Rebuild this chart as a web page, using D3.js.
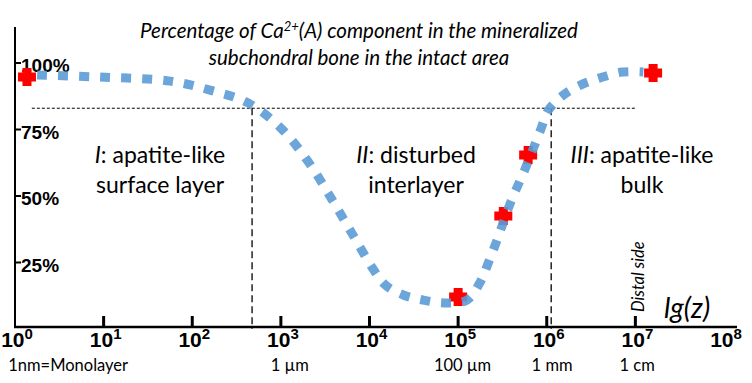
<!DOCTYPE html>
<html lang="en">
<head>
<meta charset="UTF-8">
<title>Ca2+(A) component</title>
<style>
    body { margin: 0; background: #fff; }
    svg { display: block; }
    .tick-y { font: bold 19px "Liberation Sans", Arial, sans-serif; }
    .tick-x { font: bold 21px "Liberation Sans", Arial, sans-serif; }
    .sub { font: 16.5px Lato, sans-serif; }
    .region { font: 23px Lato, sans-serif; }
    .title { font: italic 20.5px Lato, sans-serif; }
</style>
</head>
<body>
<div id="chart"></div>
<script src="https://d3js.org/d3.v7.min.js"></script>
<script>
    // blue fitted curve: lg(z) (z in nm) vs percent
    const curveLg  = [0.25, 0.96, 1.75, 2.2, 2.63, 3.01, 3.31, 3.56, 3.80, 4.04, 4.18, 4.38, 4.60, 4.85, 5.10, 5.25, 5.34, 5.44, 5.59, 5.76, 5.93, 6.02, 6.19, 6.38, 6.6, 6.85, 7.09];
    const curvePct = [95.5, 94.7, 93.2, 89.8, 85.0, 75.2, 62.8, 49.6, 36.1, 22.6, 16.5, 12.8, 10.9, 9.8, 10.9, 17.7, 24.8, 33.5, 47.4, 60.5, 74.8, 82.3, 88, 91.7, 94.4, 96.6, 96.6];

    // measured points (red crosses)
    const pointLg  = [0.135, 5.0, 5.51, 5.79, 7.2];
    const pointPct = [94.7, 12.0, 42.5, 65.4, 96.2];

    const yTicks = [25, 50, 75, 100];
    const xTickExp = [0, 1, 2, 3, 4, 5, 6, 7, 8];
    const subLabels = [
        { lg: 0.6, text: "1nm=Monolayer" },
        { lg: 3.1, text: "1 \u00b5m" },
        { lg: 5.05, text: "100 \u00b5m" },
        { lg: 6.06, text: "1 mm" },
        { lg: 7.02, text: "1 cm" }
    ];

    const thresholdPct = 83;
    const boundaryLg = [2.675, 6.05];

    const width = 752, height = 383;

    const svg = d3.select("#chart").append("svg")
        .attr("width", width)
        .attr("height", height);

    const x = d3.scaleLog().domain([1, 1e8]).range([15, 724]);
    const y = d3.scaleLinear().domain([0, 100]).range([329, 63]);
    const xl = lg => x(Math.pow(10, lg));

    // title
    const title = svg.append("text").attr("class", "title").attr("text-anchor", "middle");
    const t1 = title.append("tspan").attr("x", 359).attr("y", 38);
    t1.append("tspan").text("Percentage of Ca");
    t1.append("tspan").attr("dy", -7).attr("font-size", 13).text("2+");
    t1.append("tspan").attr("dy", 7).text("(A) component in the mineralized");
    title.append("tspan").attr("x", 359).attr("y", 65).text("subchondral bone in the intact area");

    // threshold + region boundaries
    svg.append("line")
        .attr("x1", xl(0.19)).attr("x2", xl(7.0))
        .attr("y1", y(thresholdPct)).attr("y2", y(thresholdPct))
        .attr("stroke", "#000").attr("stroke-width", 1)
        .attr("stroke-dasharray", "3 2");

    svg.selectAll(".boundary")
        .data(boundaryLg)
        .join("line")
        .attr("class", "boundary")
        .attr("x1", d => xl(d)).attr("x2", d => xl(d))
        .attr("y1", y(thresholdPct)).attr("y2", y(0))
        .attr("stroke", "#000").attr("stroke-width", 1.3)
        .attr("stroke-dasharray", "7 4");

    // region labels
    const regions = [
        { cx: 160, num: "I", l1: ": apatite-like", l2: "surface layer" },
        { cx: 416, num: "II", l1: ": disturbed", l2: "interlayer" },
        { cx: 642, num: "III", l1: ": apatite-like", l2: "bulk" }
    ];
    regions.forEach(r => {
        const t = svg.append("text").attr("class", "region").attr("text-anchor", "middle");
        const a = t.append("tspan").attr("x", r.cx).attr("y", 163);
        a.append("tspan").attr("font-style", "italic").text(r.num);
        a.append("tspan").text(r.l1);
        t.append("tspan").attr("x", r.cx).attr("y", 193).text(r.l2);
    });

    // axes
    svg.append("line")
        .attr("x1", 15).attr("x2", 15).attr("y1", 27).attr("y2", 328)
        .attr("stroke", "#000").attr("stroke-width", 2);
    svg.append("line")
        .attr("x1", 14).attr("x2", 737).attr("y1", 327).attr("y2", 327)
        .attr("stroke", "#000").attr("stroke-width", 2.5);

    svg.selectAll(".ytick")
        .data(yTicks)
        .join("line")
        .attr("class", "ytick")
        .attr("x1", 15).attr("x2", 21)
        .attr("y1", d => y(d)).attr("y2", d => y(d))
        .attr("stroke", "#000").attr("stroke-width", 2);

    svg.selectAll(".ylab")
        .data(yTicks)
        .join("text")
        .attr("class", "tick-y")
        .attr("x", 21)
        .attr("y", d => y(d) + 9)
        .text(d => d + "%");

    svg.selectAll(".xtick")
        .data(xTickExp.filter(d => d > 0 && d < 8))
        .join("line")
        .attr("class", "xtick")
        .attr("x1", d => x(Math.pow(10, d))).attr("x2", d => x(Math.pow(10, d)))
        .attr("y1", 316).attr("y2", 327)
        .attr("stroke", "#000").attr("stroke-width", 3);

    const xlab = svg.selectAll(".xlab")
        .data(xTickExp)
        .join("text")
        .attr("class", "tick-x")
        .attr("text-anchor", "middle")
        .attr("x", d => x(Math.pow(10, d)) + 2)
        .attr("y", 347);
    xlab.append("tspan").text("10");
    xlab.append("tspan").attr("dy", -8).attr("font-size", 15).text(d => d);

    svg.selectAll(".sublab")
        .data(subLabels)
        .join("text")
        .attr("class", "sub")
        .attr("text-anchor", "middle")
        .attr("x", d => xl(d.lg))
        .attr("y", 371)
        .text(d => d.text);

    svg.append("text")
        .attr("font-family", "Lato, sans-serif")
        .attr("font-style", "italic")
        .attr("font-size", 28)
        .attr("x", 664).attr("y", 318)
        .text("lg(z)");

    svg.append("text")
        .attr("font-family", "Lato, sans-serif")
        .attr("font-style", "italic")
        .attr("font-size", 16.5)
        .attr("transform", "translate(644,312) rotate(-90)")
        .text("Distal side");

    // red measured points
    const cross = "M-4.5,-9H4.5V-4.5H9V4.5H4.5V9H-4.5V4.5H-9V-4.5H-4.5Z";
    svg.selectAll(".pt")
        .data(pointLg.map((lg, i) => ({ lg, pct: pointPct[i] })))
        .join("path")
        .attr("class", "pt")
        .attr("d", cross)
        .attr("transform", d => `translate(${xl(d.lg)},${y(d.pct)})`)
        .attr("fill", "#ff0000");

    // dotted fit curve
    const line = d3.line()
        .x(d => xl(d.lg))
        .y(d => y(d.pct))
        .curve(d3.curveCatmullRom.alpha(0.5));

    svg.append("path")
        .datum(curveLg.map((lg, i) => ({ lg, pct: curvePct[i] })))
        .attr("d", line)
        .attr("fill", "none")
        .attr("stroke", "#5b9bd5")
        .attr("stroke-opacity", 0.9)
        .attr("stroke-width", 9)
        .attr("stroke-dasharray", "10 11");
</script>
</body>
</html>
